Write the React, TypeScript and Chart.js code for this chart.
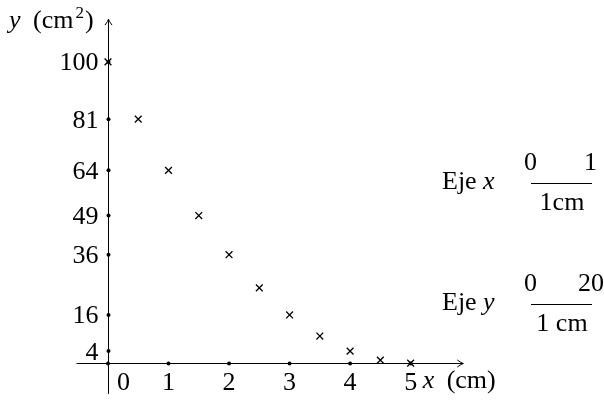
import React, { useEffect, useRef } from "react";
import { Chart, registerables } from "chart.js";

Chart.register(...registerables);

const xValues = [0, 0.5, 1, 1.5, 2, 2.5, 3, 3.5, 4, 4.5, 5];
const yValues = [100, 81, 64, 49, 36, 25, 16, 9, 4, 1, 0];
const xTicks = [0, 1, 2, 3, 4, 5];
const yTicks = [4, 16, 36, 49, 64, 81, 100];
const xRange = [-0.52, 5.87];
const yRange = [-10.2, 114.2];

const FONT = '"Liberation Serif", "DejaVu Serif", serif';
const FS = 26;

const axesPlugin = {
  id: "mathAxes",
  beforeDatasetsDraw(chart: any) {
    const { ctx, scales } = chart;
    const xs = scales.x;
    const ys = scales.y;
    const px = (v: number) => xs.getPixelForValue(v);
    const py = (v: number) => ys.getPixelForValue(v);
    const ox = Math.round(px(0)) + 0.5;
    const oy = Math.round(py(0)) + 0.5;
    ctx.save();
    ctx.strokeStyle = "#000";
    ctx.fillStyle = "#000";
    ctx.lineWidth = 1;
    // axes
    const xEnd = px(xs.max);
    const yEnd = py(ys.max);
    ctx.beginPath();
    ctx.moveTo(px(xs.min), oy);
    ctx.lineTo(xEnd, oy);
    ctx.moveTo(ox, py(ys.min));
    ctx.lineTo(ox, yEnd);
    ctx.stroke();
    // arrows
    ctx.beginPath();
    ctx.moveTo(xEnd - 6, oy - 3.5);
    ctx.quadraticCurveTo(xEnd - 2, oy - 0.5, xEnd, oy);
    ctx.quadraticCurveTo(xEnd - 2, oy + 0.5, xEnd - 6, oy + 3.5);
    ctx.moveTo(ox - 3.5, yEnd + 6);
    ctx.quadraticCurveTo(ox - 0.5, yEnd + 2, ox, yEnd);
    ctx.quadraticCurveTo(ox + 0.5, yEnd + 2, ox + 3.5, yEnd + 6);
    ctx.stroke();
    // tick dots
    const dot = (x: number, y: number) => {
      ctx.beginPath();
      ctx.arc(x, y, 2, 0, Math.PI * 2);
      ctx.fill();
    };
    xTicks.forEach((t) => dot(px(t), oy));
    yTicks.forEach((t) => dot(ox, py(t)));
    // tick labels
    ctx.font = `${FS}px ${FONT}`;
    ctx.textBaseline = "alphabetic";
    ctx.textAlign = "right";
    yTicks.forEach((t) => ctx.fillText(String(t), ox - 10, py(t) + 8.5));
    ctx.textAlign = "center";
    xTicks.forEach((t) =>
      ctx.fillText(String(t), px(t) + (t === 0 ? 15.5 : 0), oy + 26.5)
    );
    // x axis label
    ctx.textAlign = "left";
    ctx.font = `italic ${FS}px ${FONT}`;
    ctx.fillText("x", px(5) + 12, oy + 24);
    ctx.font = `${FS}px ${FONT}`;
    ctx.fillText("(cm)", px(5) + 36, oy + 24);
    // y axis label
    ctx.font = `italic ${FS}px ${FONT}`;
    ctx.fillText("y", 9, 28);
    ctx.font = `${FS}px ${FONT}`;
    ctx.fillText("(cm", 33, 28);
    const w = ctx.measureText("(cm").width;
    ctx.font = `17px ${FONT}`;
    ctx.fillText("2", 33 + w + 2, 18);
    const w2 = ctx.measureText("2").width;
    ctx.font = `${FS}px ${FONT}`;
    ctx.fillText(")", 33 + w + w2 + 3, 28);

    // scale annotations
    const annot = (
      axis: string,
      yBase: number,
      right: string,
      unit: string
    ) => {
      ctx.textAlign = "left";
      ctx.font = `${FS}px ${FONT}`;
      ctx.fillText("Eje", 442, yBase);
      ctx.font = `italic ${FS}px ${FONT}`;
      ctx.fillText(axis, 483, yBase);
      ctx.font = `${FS}px ${FONT}`;
      ctx.fillText("0", 524, yBase - 19);
      ctx.textAlign = "right";
      ctx.fillText(right, right.length > 1 ? 604 : 597, yBase - 19);
      ctx.textAlign = "center";
      ctx.fillText(unit, 562, yBase + 21);
      ctx.beginPath();
      ctx.moveTo(531, Math.round(yBase - 6) + 0.5);
      ctx.lineTo(592, Math.round(yBase - 6) + 0.5);
      ctx.stroke();
    };
    annot("x", 189, "1", "1cm");
    annot("y", 310, "20", "1 cm");
    ctx.restore();
  },
};

export default function App() {
  const ref = useRef<HTMLCanvasElement | null>(null);
  useEffect(() => {
    if (!ref.current) return;
    const chart = new Chart(ref.current, {
      type: "scatter",
      data: {
        datasets: [
          {
            data: xValues.map((x, i) => ({ x, y: yValues[i] })),
            pointStyle: "crossRot",
            pointRadius: 4.8,
            pointHoverRadius: 4.8,
            borderColor: "#000",
            backgroundColor: "#000",
            borderWidth: 1.3,
          },
        ],
      },
      options: {
        responsive: false,
        animation: false,
        devicePixelRatio: 1,
        layout: { padding: { left: 76.5, right: 140.7, top: 19.1, bottom: 4.9 } },
        scales: {
          x: { type: "linear", min: xRange[0], max: xRange[1], display: false },
          y: { type: "linear", min: yRange[0], max: yRange[1], display: false },
        },
        plugins: { legend: { display: false }, tooltip: { enabled: false } },
      },
      plugins: [axesPlugin],
    });
    return () => chart.destroy();
  }, []);
  return (
    <div style={{ position: "fixed", left: 0, top: 0, width: 604, height: 400, background: "#fff" }}>
      <canvas ref={ref} width={604} height={400} />
    </div>
  );
}
